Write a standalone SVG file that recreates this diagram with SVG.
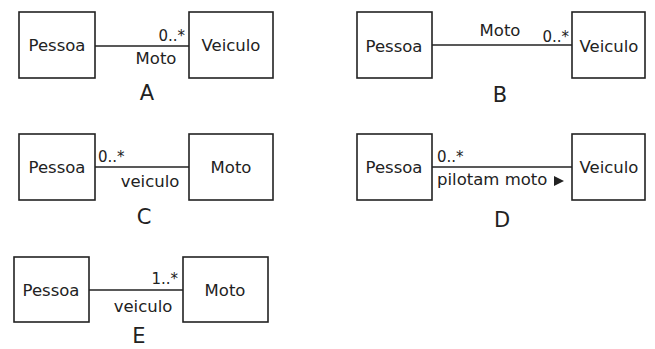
<svg xmlns="http://www.w3.org/2000/svg" width="655" height="349" viewBox="0 0 655 349">
<style>
.box{fill:#fff;stroke:#222;stroke-width:1.6}
.ln{stroke:#222;stroke-width:1.6;fill:none}
text{font-family:"DejaVu Sans",sans-serif;fill:#222}
.t{font-size:16.5px}
.m{font-size:15px}
.lab{font-size:21px}
</style>
<rect width="655" height="349" fill="#fff"/>
<g id="connectors">
<line class="ln" x1="95" y1="46" x2="189" y2="46"/>
<line class="ln" x1="432" y1="45" x2="572" y2="45"/>
<line class="ln" x1="95" y1="167" x2="189" y2="167"/>
<line class="ln" x1="432" y1="167" x2="572" y2="167"/>
<line class="ln" x1="89" y1="290" x2="183" y2="290"/>
<text class="m" x="185" y="41" text-anchor="end">0..*</text>
<text class="t" x="156" y="64" text-anchor="middle">Moto</text>
<text class="t" x="500" y="36" text-anchor="middle">Moto</text>
<text class="m" x="569" y="42" text-anchor="end">0..*</text>
<text class="m" x="98" y="162">0..*</text>
<text class="t" x="150" y="187" text-anchor="middle">veiculo</text>
<text class="m" x="437" y="162">0..*</text>
<text class="t" x="437" y="185">pilotam moto</text>
<polygon points="554,176 564,181 554,186" fill="#222"/>
<text class="m" x="178" y="284" text-anchor="end">1..*</text>
<text class="t" x="143" y="312" text-anchor="middle">veiculo</text>
</g>
<g id="A-pessoa"><rect class="box" x="19" y="12" width="76" height="66"/><text class="t" x="57" y="51" text-anchor="middle">Pessoa</text></g>
<g id="A-veiculo"><rect class="box" x="189" y="12" width="84" height="66"/><text class="t" x="231" y="51" text-anchor="middle">Veiculo</text></g>
<text class="lab" x="147" y="100" text-anchor="middle">A</text>
<g id="B-pessoa"><rect class="box" x="357" y="12" width="75" height="66"/><text class="t" x="394" y="52" text-anchor="middle">Pessoa</text></g>
<g id="B-veiculo"><rect class="box" x="572" y="12" width="73" height="66"/><text class="t" x="609" y="52" text-anchor="middle">Veiculo</text></g>
<text class="lab" x="500" y="102" text-anchor="middle">B</text>
<g id="C-pessoa"><rect class="box" x="19" y="134" width="76" height="66"/><text class="t" x="57" y="173" text-anchor="middle">Pessoa</text></g>
<g id="C-moto"><rect class="box" x="189" y="134" width="84" height="66"/><text class="t" x="231" y="173" text-anchor="middle">Moto</text></g>
<text class="lab" x="144" y="224" text-anchor="middle">C</text>
<g id="D-pessoa"><rect class="box" x="357" y="134" width="75" height="66"/><text class="t" x="394" y="173" text-anchor="middle">Pessoa</text></g>
<g id="D-veiculo"><rect class="box" x="572" y="134" width="73" height="66"/><text class="t" x="609" y="173" text-anchor="middle">Veiculo</text></g>
<text class="lab" x="502" y="227" text-anchor="middle">D</text>
<g id="E-pessoa"><rect class="box" x="14" y="257" width="75" height="65"/><text class="t" x="51" y="296" text-anchor="middle">Pessoa</text></g>
<g id="E-moto"><rect class="box" x="183" y="257" width="85" height="65"/><text class="t" x="225" y="296" text-anchor="middle">Moto</text></g>
<text class="lab" x="139" y="343" text-anchor="middle">E</text>
</svg>
